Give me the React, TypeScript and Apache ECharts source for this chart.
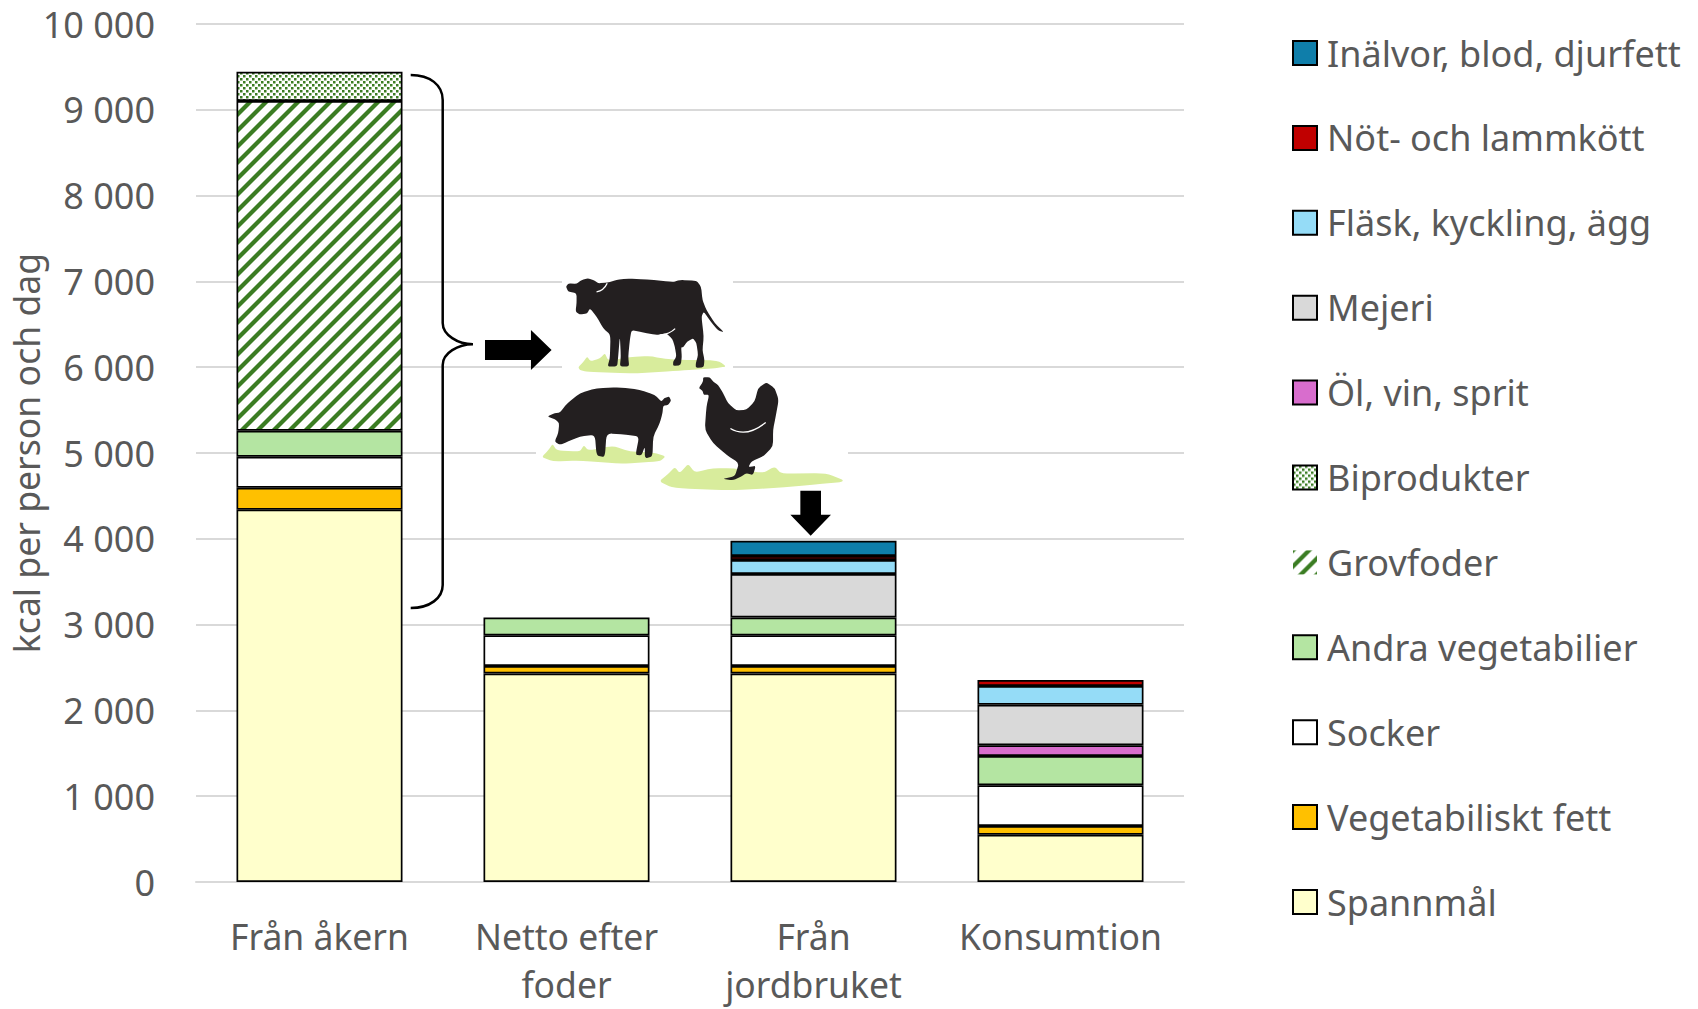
import React, { useEffect, useRef } from "react";
import * as echarts from "echarts";

const categories = ["Från åkern", "Netto efter\nfoder", "Från\njordbruket", "Konsumtion"];
const tickLabels = ["0", "1 000", "2 000", "3 000", "4 000", "5 000", "6 000", "7 000", "8 000", "9 000", "10 000"];
const yAxisTitle = "kcal per person och dag";

const spannmal = [4340, 2430, 2430, 551];
const vegFett = [255, 87, 87, 102];
const socker = [362, 358, 358, 474];
const andraVeg = [303, 208, 208, 341];
const grovfoder = [3843, null, null, null];
const biprodukter = [340, null, null, null];
const olVinSprit = [null, null, null, 125];
const mejeri = [null, null, 507, 473];
const flaskKyckling = [null, null, 163, 218];
const notLamm = [null, null, 47, 70];
const inalvor = [null, null, 178, null];

const FONT = '"Noto Sans", sans-serif';
const TEXT = "#595959";
const GRID = "#D9D9D9";

type Pt = [number, number];
// Outline with slightly rounded corners, from traced silhouette points
function blob(pts: Pt[]): string {
  const n = pts.length;
  const lerp = (a: Pt, b: Pt, t: number): Pt => [a[0] + (b[0] - a[0]) * t, a[1] + (b[1] - a[1]) * t];
  let d = "";
  for (let i = 0; i < n; i++) {
    const p = pts[i];
    const a = lerp(p, pts[(i + n - 1) % n], 0.28);
    const b = lerp(p, pts[(i + 1) % n], 0.28);
    d += `${i === 0 ? "M" : "L"}${a[0]} ${a[1]}Q${p[0]} ${p[1]} ${b[0]} ${b[1]}`;
  }
  return d + "Z";
}
function poly(pts: Pt[]): string {
  return "M" + pts.map((p) => p.join(" ")).join("L") + "Z";
}

const cowPts: Pt[] = [[258,80],[266,70],[290,72],[305,60],[325,55],[345,62],[355,70],[382,68],[410,60],[440,56],[500,58],[580,66],[600,60],[650,62],[664,80],[668,120],[680,150],[705,190],[733,217],[715,212],[695,188],[672,155],[665,170],[672,230],[668,270],[674,300],[672,322],[648,324],[648,310],[655,285],[650,250],[640,235],[622,245],[610,262],[604,262],[606,290],[603,316],[580,318],[580,305],[590,290],[585,260],[578,238],[560,220],[530,225],[490,218],[455,210],[450,240],[445,290],[448,320],[420,320],[423,290],[420,228],[415,290],[412,320],[383,320],[390,295],[392,225],[370,205],[350,170],[330,145],[322,160],[300,164],[287,155],[290,130],[290,100],[265,95]];
const pigPts: Pt[] = [[202,470],[225,460],[240,458],[262,430],[300,400],[350,385],[420,382],[480,390],[525,405],[545,425],[553,415],[568,410],[574,422],[565,435],[550,438],[548,460],[540,490],[520,530],[518,590],[495,596],[495,560],[485,587],[467,585],[478,530],[440,525],[380,520],[375,592],[350,587],[345,525],[300,530],[265,545],[240,555],[224,545],[235,520],[238,490],[225,478]];
const henPts: Pt[] = [[657,385],[670,365],[670,352],[690,352],[700,365],[715,375],[730,400],[745,430],[770,452],[800,450],[825,425],[835,385],[860,367],[885,385],[897,420],[888,470],[880,510],[880,560],[850,590],[815,605],[806,622],[828,618],[820,646],[800,640],[785,650],[760,662],[728,657],[765,650],[778,610],[740,585],[700,550],[675,510],[680,440],[688,405],[672,405],[668,392]];
const cowGrassPts: Pt[] = [[295,322],[310,306],[322,290],[332,304],[360,296],[375,280],[385,302],[450,292],[510,288],[540,295],[600,300],[680,300],[720,305],[740,320],[700,326],[600,332],[460,341],[320,336],[300,330]];
const pigGrassPts: Pt[] = [[185,592],[205,572],[218,552],[230,572],[300,575],[312,556],[325,572],[400,558],[450,575],[520,578],[558,590],[540,605],[420,612],[300,602],[220,605]];
const henGrassPts: Pt[] = [[538,665],[565,642],[585,622],[600,640],[625,612],[645,638],[700,625],[760,625],[850,640],[885,620],[905,642],[1040,640],[1100,665],[1000,675],[880,685],[750,692],[580,685]];

const arrowRight: Pt[] = [[15,240],[153,240],[153,210],[215,270],[153,330],[153,300],[15,300]];
const arrowDown: Pt[] = [[962,693],[1024,693],[1024,765],[1054,765],[993,828],[932,765],[962,765]];

const braceD = "M410.7 75C430 75 442.7 85 442.7 100L442.7 323C442.7 335 458 344.3 473 344.3C458 344.3 442.7 353 442.7 365L442.7 585C442.7 598 430 608 410.7 608";

function makeHatch() {
  const size = 16;
  const c = document.createElement("canvas");
  c.width = size; c.height = size;
  const x = c.getContext("2d")!;
  x.fillStyle = "#fff"; x.fillRect(0, 0, size, size);
  x.strokeStyle = "#3B7D23"; x.lineWidth = 4.2;
  for (let i = -size; i <= size * 2; i += size) {
    x.beginPath(); x.moveTo(i - 2, size + 2); x.lineTo(i + size + 2, -2); x.stroke();
  }
  return { image: c, repeat: "repeat", imageWidth: size, imageHeight: size };
}
function makeDots() {
  const size = 6;
  const c = document.createElement("canvas");
  c.width = size; c.height = size;
  const x = c.getContext("2d")!;
  x.fillStyle = "#fff"; x.fillRect(0, 0, size, size);
  x.fillStyle = "#3B7D23";
  x.fillRect(0, 0, 2.5, 2.5); x.fillRect(3, 3, 2.5, 2.5);
  return { image: c, repeat: "repeat", imageWidth: size, imageHeight: size };
}

let registered = false;
function registerShapes() {
  if (registered) return;
  registered = true;
  const reg = (n: string, d: string) => echarts.graphic.registerShape(n, echarts.graphic.extendPath(d as any, {}) as any);
  reg("cowShape", blob(cowPts));
  reg("pigShape", blob(pigPts));
  reg("henShape", blob(henPts));
  reg("cowGrass", blob(cowGrassPts));
  reg("pigGrass", blob(pigGrassPts));
  reg("henGrass", blob(henGrassPts));
  reg("arrowRight", poly(arrowRight));
  reg("arrowDown", poly(arrowDown));
  reg("braceShape", braceD);
  reg("henWing", "M752 506Q800 535 858 488");
  reg("udderLine", "M540 226Q570 222 586 206");
  reg("cowEar", "M350 96Q372 92 382 70");
}

export default function App() {
  const ref = useRef<HTMLDivElement>(null);
  useEffect(() => {
    document.body.style.margin = "0";
    registerShapes();
    const chart = echarts.init(ref.current!, undefined, { renderer: "svg" });
    const mk = (name: string, data: (number | null)[], color: any) => ({
      name, type: "bar", stack: "total", data, barWidth: 166,
      itemStyle: { color, borderColor: "#000", borderWidth: 1.7 },
    });
    const series = [
      mk("Spannmål", spannmal, "#FFFFCC"),
      mk("Vegetabiliskt fett", vegFett, "#FFC000"),
      mk("Socker", socker, "#FFFFFF"),
      mk("Andra vegetabilier", andraVeg, "#B4E5A2"),
      mk("Grovfoder", grovfoder, makeHatch()),
      mk("Biprodukter", biprodukter, makeDots()),
      mk("Öl, vin, sprit", olVinSprit, "#D86DCD"),
      mk("Mejeri", mejeri, "#D9D9D9"),
      mk("Fläsk, kyckling, ägg", flaskKyckling, "#95DCF7"),
      mk("Nöt- och lammkött", notLamm, "#C00000"),
      mk("Inälvor, blod, djurfett", inalvor, "#0F7EAA"),
    ];
    const legendData = [...series].reverse().map((s) =>
      s.name === "Grovfoder" ? { name: s.name, itemStyle: { borderWidth: 0 } } : { name: s.name }
    );
    const animal = (type: string, fill: string) => ({
      type, x: 480, y: 260, scaleX: 1 / 3, scaleY: 1 / 3, silent: true, z: 5, style: { fill },
    });
    const whiteLine = (type: string) => ({
      type, x: 480, y: 260, scaleX: 1 / 3, scaleY: 1 / 3, silent: true, z: 6,
      style: { fill: "none", stroke: "#fff", lineWidth: 4 },
    });
    chart.setOption({
      animation: false,
      backgroundColor: "#fff",
      grid: { left: 196, top: 24, width: 988, height: 858, containLabel: false, outerBoundsMode: "none" },
      xAxis: {
        type: "category", data: categories,
        axisLine: { lineStyle: { color: GRID, width: 2 } },
        axisTick: { show: false },
        axisLabel: { color: TEXT, fontFamily: FONT, fontSize: 35.5, lineHeight: 48, margin: 30, interval: 0 },
      },
      yAxis: {
        type: "value", min: 0, max: 10000, interval: 1000,
        name: yAxisTitle, nameLocation: "middle", nameGap: 152, nameRotate: 90, nameMoveOverlap: false,
        nameTextStyle: { color: TEXT, fontFamily: FONT, fontSize: 35.6 },
        axisLine: { show: false }, axisTick: { show: false },
        axisLabel: {
          color: TEXT, fontFamily: FONT, fontSize: 36, margin: 41,
          formatter: (v: number) => tickLabels[Math.round(v / 1000)],
        },
        splitLine: { lineStyle: { color: GRID, width: 2 } },
      },
      legend: {
        orient: "vertical", left: 1287, top: 28, icon: "rect",
        itemWidth: 24, itemHeight: 24, itemGap: 44.9, data: legendData,
        selectedMode: false,
        textStyle: { color: TEXT, fontFamily: FONT, fontSize: 36, lineHeight: 40, padding: [0, 0, 0, 5] },
      },
      series,
      graphic: { elements: [
        { type: "rect", silent: true, z: 1, shape: { x: 562, y: 272, width: 171, height: 100 }, style: { fill: "#fff" } },
        { type: "rect", silent: true, z: 1, shape: { x: 536, y: 440, width: 312, height: 30 }, style: { fill: "#fff" } },
        { type: "braceShape", silent: true, z: 5, style: { fill: "none", stroke: "#000", lineWidth: 2.5 } },
        animal("arrowRight", "#000"),
        animal("arrowDown", "#000"),
        animal("cowGrass", "#D8EC9C"),
        animal("pigGrass", "#D8EC9C"),
        animal("henGrass", "#D8EC9C"),
        animal("cowShape", "#231F20"),
        animal("pigShape", "#231F20"),
        animal("henShape", "#231F20"),
        whiteLine("henWing"),
        whiteLine("udderLine"),
        whiteLine("cowEar"),
      ] },
    });
    return () => chart.dispose();
  }, []);
  return <div ref={ref} style={{ width: 1698, height: 1009 }} />;
}
